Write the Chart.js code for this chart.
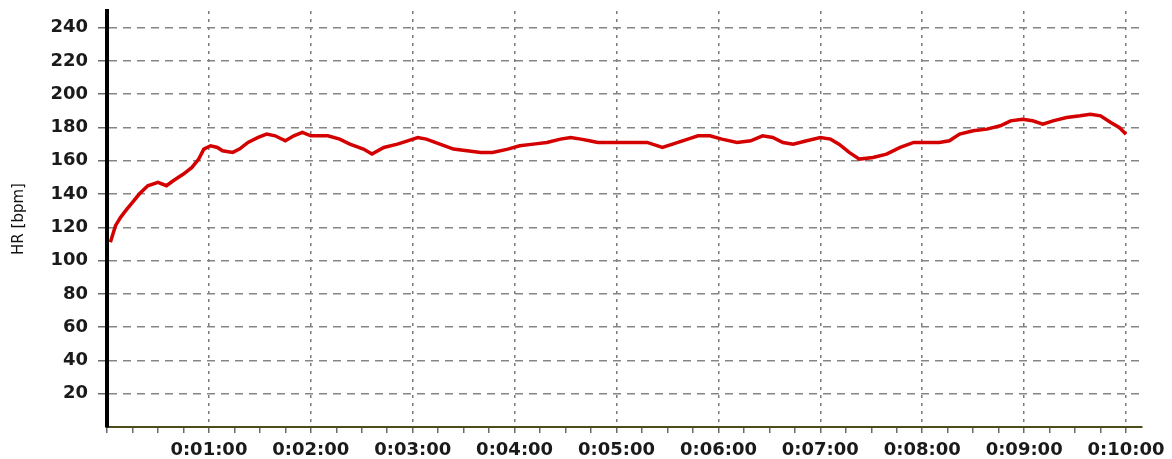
<!DOCTYPE html>
<html>
<head>
<meta charset="utf-8">
<title>HR</title>
<script src="https://cdn.jsdelivr.net/npm/chart.js@4.4.0/dist/chart.umd.min.js"></script>
<style>
    html, body { margin: 0; padding: 0; background: #ffffff; }
    #wrap { width: 1172px; height: 459px; }
</style>
</head>
<body>
<div id="wrap"><canvas id="hrChart" width="1172" height="459"></canvas></div>
<script>
// elapsed time in seconds
const timeSec = [
    2, 5, 8, 11, 15, 19, 24, 30, 35, 39, 45, 50, 54, 57, 61, 65, 68, 74, 78, 83,
    89, 94, 99, 105, 110, 115, 120, 130, 137, 143, 151, 156, 163, 171, 177, 183, 188, 196, 204, 212,
    220, 227, 236, 243, 251, 259, 267, 273, 279, 284, 289, 300, 308, 318, 327, 333, 342, 348, 355, 362,
    371, 379, 386, 392, 398, 404, 412, 420, 426, 431, 437, 443, 451, 459, 467, 475, 483, 490, 496, 502,
    510, 518, 526, 532, 539, 545, 551, 557, 565, 573, 579, 585, 591, 596, 600
];
// heart rate [bpm]
const hrValues = [
    111, 121, 126, 130, 135, 140, 145, 147, 145, 148, 152, 156, 161, 167, 169, 168, 166, 165, 167, 171,
    174, 176, 175, 172, 175, 177, 175, 175, 173, 170, 167, 164, 168, 170, 172, 174, 173, 170, 167, 166,
    165, 165, 167, 169, 170, 171, 173, 174, 173, 172, 171, 171, 171, 171, 168, 170, 173, 175, 175, 173,
    171, 172, 175, 174, 171, 170, 172, 174, 173, 170, 165, 161, 162, 164, 168, 171, 171, 171, 172, 176,
    178, 179, 181, 184, 185, 184, 182, 184, 186, 187, 188, 187, 183, 180, 176
];
// y ticks shown
const hrTicks = [20, 40, 60, 80, 100, 120, 140, 160, 180, 200, 220, 240];

function fmtTime(sec) {
    const m = Math.floor(sec / 60);
    const s = sec % 60;
    return '0:' + String(m).padStart(2, '0') + ':' + String(s).padStart(2, '0');
}

const points = timeSec.map((t, i) => ({ x: t, y: hrValues[i] }));

new Chart(document.getElementById('hrChart'), {
    type: 'line',
    data: {
        datasets: [{
            data: points,
            borderColor: '#d40000',
            borderWidth: 3.5,
            pointRadius: 0,
            tension: 0
        }]
    },
    options: {
        responsive: false,
        animation: false,
        layout: { padding: { top: 11, right: 30, left: 6, bottom: 0 } },
        plugins: {
            legend: { display: false },
            tooltip: { enabled: false }
        },
        scales: {
            x: {
                type: 'linear',
                min: 0,
                max: 609,
                afterFit: (scale) => { scale.height = 32; },
                afterBuildTicks: (scale) => {
                    const ticks = [];
                    for (let v = 0; v <= 600; v += 15) ticks.push({ value: v });
                    scale.ticks = ticks;
                },
                ticks: {
                    autoSkip: false,
                    maxRotation: 0,
                    padding: 7,
                    color: '#1a1a1a',
                    font: { family: 'DejaVu Sans', size: 18, weight: 'bold' },
                    callback: (v) => (v > 0 && v % 60 === 0) ? fmtTime(v) : ''
                },
                grid: {
                    color: (ctx) => (ctx.tick && ctx.tick.value > 0 && ctx.tick.value % 60 === 0) ? '#7a7a7a' : 'rgba(0,0,0,0)',
                    lineWidth: 1.5,
                    tickColor: '#6a6a6a',
                    tickLength: 6,
                    tickWidth: 1.5
                },
                border: { color: '#4d4d1c', width: 2, dash: [3, 5] }
            },
            y: {
                min: 0,
                max: 250,
                afterFit: (scale) => {
                    scale.width = 101;
                    scale.paddingTop = 0;
                    scale.paddingBottom = 0;
                },
                afterBuildTicks: (scale) => {
                    scale.ticks = hrTicks.map(v => ({ value: v }));
                },
                title: {
                    display: true,
                    text: 'HR [bpm]',
                    color: '#111111',
                    font: { family: 'DejaVu Sans', size: 15 }
                },
                ticks: {
                    padding: 10,
                    color: '#1a1a1a',
                    font: { family: 'DejaVu Sans', size: 18, weight: 'bold' }
                },
                grid: {
                    color: '#858585',
                    lineWidth: 1.5,
                    tickColor: '#6a6a6a',
                    tickLength: 9,
                    tickWidth: 1.5
                },
                border: { color: '#000000', width: 4, dash: [8, 6] }
            }
        }
    }
});
</script>
</body>
</html>
